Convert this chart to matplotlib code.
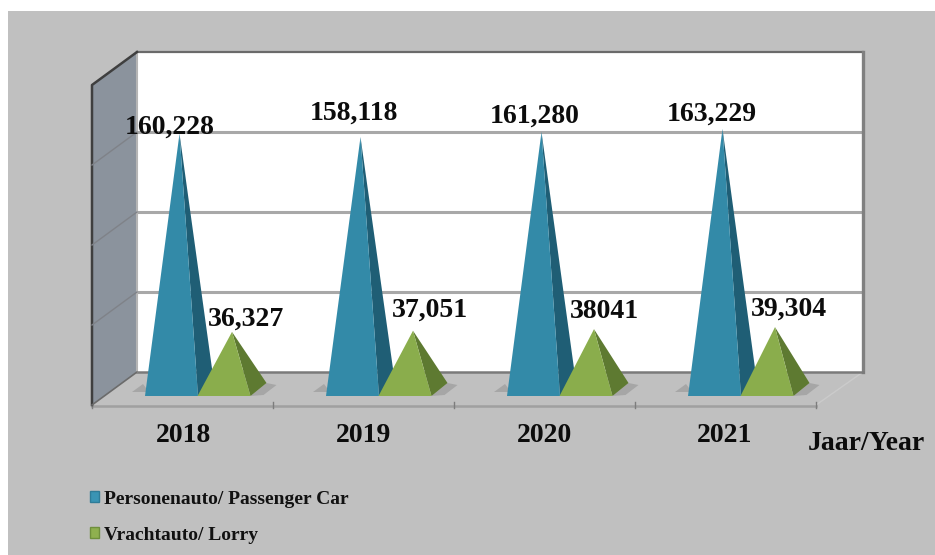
# -*- coding: utf-8 -*-
import matplotlib
matplotlib.use("Agg")
import matplotlib.pyplot as plt
from matplotlib.patches import Polygon, Rectangle

years = ["2018", "2019", "2020", "2021"]
passenger = [160228, 158118, 161280, 163229]
lorry = [36327, 37051, 38041, 39304]
passenger_labels = ["160,228", "158,118", "161,280", "163,229"]
lorry_labels = ["36,327", "37,051", "38041", "39,304"]
grid_values = [50000, 100000, 150000]

BG = "#c0c0c0"
FONT = "Liberation Serif"

# scene geometry, pixels of the 935x555 picture
FLOOR_BACK = 372
FLOOR_FRONT = 405
WALL_L = 137
WALL_R = 863
WALL_TOP = 52
SIDE_L = 92
SIDE_R = 816
PX_PER_UNIT = 320 / 200000
DX, DY = 46, -33  # depth direction of the box

group_w = (SIDE_R - SIDE_L) / len(years)


def val_y(v):
    return FLOOR_BACK - v * PX_PER_UNIT


def pyramid(ax, left, value, front, side, z, shadow):
    """Pyramid on the floor: front face and right face."""
    w = 53
    base = 396
    apex = (left + w / 2 + 8, base - 6 - value * PX_PER_UNIT)
    fr = (left + w, base)
    br = (left + w + 16, base - 13)
    # soft shadow on the floor, only on the free side
    if shadow == "left":
        ax.add_patch(Polygon([(left - 13, base - 4), (left - 2, base - 12), (left + 4, base - 4)],
                             color="#a6a6a6", lw=0, zorder=z - 1))
    else:
        ax.add_patch(Polygon([fr, br, (br[0] + 10, base - 11), (br[0] - 3, base - 1)],
                             color="#a6a6a6", lw=0, zorder=z - 1))
    ax.add_patch(Polygon([apex, fr, br], color=side, lw=0, zorder=z))
    ax.add_patch(Polygon([apex, (left, base), fr], color=front, lw=0, zorder=z + 0.1))


fig = plt.figure(figsize=(9.35, 5.55), dpi=100, facecolor="white")
ax = fig.add_axes([0, 0, 1, 1])
ax.set_xlim(0, 935)
ax.set_ylim(555, 0)
ax.axis("off")

ax.add_patch(Rectangle((8, 11), 927, 544, color=BG, lw=0, zorder=0))

# back wall
ax.add_patch(Rectangle((WALL_L, WALL_TOP), WALL_R - WALL_L, FLOOR_BACK - WALL_TOP,
                       facecolor="white", edgecolor="none", zorder=1))
for g in grid_values:
    ax.plot([WALL_L, WALL_R], [val_y(g) - 0.5] * 2, color="#a8a8a8", lw=2.2, zorder=2)
ax.plot([WALL_L, WALL_R], [WALL_TOP, WALL_TOP], color="#6a6a6a", lw=1.6, zorder=2)
ax.plot([WALL_R, WALL_R], [WALL_TOP, FLOOR_BACK], color="#808080", lw=2.4, zorder=2)
ax.plot([WALL_L, WALL_R], [FLOOR_BACK, FLOOR_BACK], color="#7a7a7a", lw=1.8, zorder=2)

# side wall
ax.add_patch(Polygon([(SIDE_L, FLOOR_FRONT), (WALL_L, FLOOR_BACK), (WALL_L, WALL_TOP),
                      (SIDE_L, WALL_TOP - DY)], facecolor="#8b939d", edgecolor="none", zorder=2))
ax.plot([WALL_L, WALL_L], [WALL_TOP, FLOOR_BACK], color="#b5b5b5", lw=1.5, zorder=3)
ax.plot([SIDE_L, SIDE_L, WALL_L], [FLOOR_FRONT, WALL_TOP - DY, WALL_TOP], color="#3f3f3f", lw=1.8, zorder=3)
ax.plot([SIDE_L, WALL_L], [FLOOR_FRONT, FLOOR_BACK], color="#6b6b6b", lw=1.2, zorder=3)
for g in grid_values:
    ax.plot([SIDE_L, WALL_L], [val_y(g) - DY, val_y(g)], color="#7f8288", lw=1, zorder=3)

# floor edges
ax.plot([WALL_R, SIDE_R], [FLOOR_BACK, FLOOR_FRONT], color="#cbcbcb", lw=1, zorder=1)
ax.plot([SIDE_L, SIDE_R], [FLOOR_FRONT + 1, FLOOR_FRONT + 1], color="#a0a0a0", lw=1.8, zorder=1)
for i in range(len(years) + 1):
    x = SIDE_L + i * group_w
    ax.plot([x, x], [FLOOR_FRONT - 3, FLOOR_FRONT + 3], color="#7d7d7d", lw=1, zorder=2)

# pyramids
for i in range(len(years)):
    x0 = SIDE_L + i * group_w
    pyramid(ax, x0 + 53, passenger[i], "#338aa8", "#1f5e75", 5, "left")
    pyramid(ax, x0 + 105.5, lorry[i], "#8aad4c", "#5e7a31", 7, "right")

# labels, placed by hand as in the picture
p_label_xy = [(170, 127), (354, 113), (535, 116), (712, 114)]
l_label_xy = [(246, 319), (430, 310), (604, 311), (789, 309)]
lab = dict(family=FONT, weight="bold", color="#0c0c0c", ha="center", va="center", zorder=10)
for t, (x, y) in zip(passenger_labels, p_label_xy):
    ax.text(x, y, t, fontsize=20, **lab)
for t, (x, y) in zip(lorry_labels, l_label_xy):
    ax.text(x, y, t, fontsize=20, **lab)
for i, t in enumerate(years):
    ax.text(SIDE_L + (i + 0.5) * group_w + 1 - i * 0.5, 436, t, fontsize=20, **lab)
ax.text(866, 444, "Jaar/Year", fontsize=20, **lab)

# legend
leg_names = ["Personenauto/ Passenger Car", "Vrachtauto/ Lorry"]
leg_y = [500, 536]
leg_cols = [("#3a94b4", "#2f7c98"), ("#8fb04f", "#6f8f3c")]
for name, y, (c, e) in zip(leg_names, leg_y, leg_cols):
    ax.add_patch(Rectangle((90, y - 9), 9, 11, facecolor=c, edgecolor=e, lw=1, zorder=5))
    ax.text(104, y, name, family=FONT, weight="bold", fontsize=14, color="#111111",
            ha="left", va="center", zorder=10)

fig.savefig("out.png", dpi=100, facecolor="white")
